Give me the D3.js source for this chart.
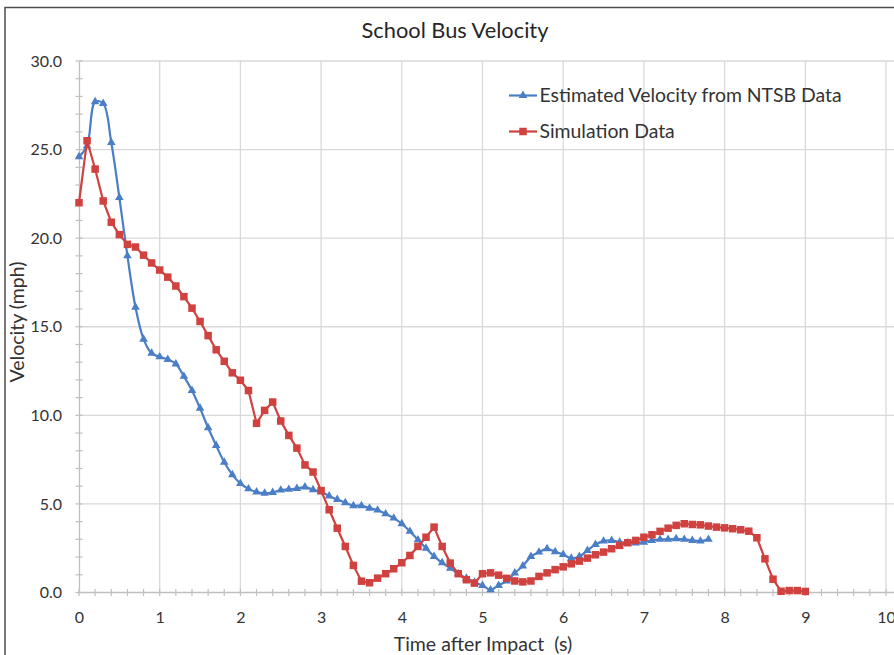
<!DOCTYPE html>
<html>
<head>
<meta charset="utf-8">
<script src="https://cdn.jsdelivr.net/npm/d3@7"></script>
<style>
  html, body { margin: 0; padding: 0; background: #fff; }
  svg { display: block; }
  text { font-family: Lato, "Open Sans", sans-serif; }
</style>
</head>
<body>
<svg id="chart" width="894" height="655"></svg>
<script>
// ---------- data ----------
const chartTitle = "School Bus Velocity";
const xAxisTitle = "Time after Impact  (s)";
const yAxisTitle = "Velocity (mph)";
const seriesNames = ["Estimated Velocity from NTSB Data", "Simulation Data"];

const xTickValues = [0, 1, 2, 3, 4, 5, 6, 7, 8, 9, 10];
const yTickValues = [0, 5, 10, 15, 20, 25, 30];

const ntsbTime = [0.0, 0.1, 0.2, 0.3, 0.4, 0.5, 0.6, 0.7, 0.8, 0.9,
  1.0, 1.1, 1.2, 1.3, 1.4, 1.5, 1.6, 1.7, 1.8, 1.9,
  2.0, 2.1, 2.2, 2.3, 2.4, 2.5, 2.6, 2.7, 2.8, 2.9,
  3.0, 3.1, 3.2, 3.3, 3.4, 3.5, 3.6, 3.7, 3.8, 3.9,
  4.0, 4.1, 4.2, 4.3, 4.4, 4.5, 4.6, 4.7, 4.8, 4.9,
  5.0, 5.1, 5.2, 5.3, 5.4, 5.5, 5.6, 5.7, 5.8, 5.9,
  6.0, 6.1, 6.2, 6.3, 6.4, 6.5, 6.6, 6.7, 6.8, 6.9,
  7.0, 7.1, 7.2, 7.3, 7.4, 7.5, 7.6, 7.7, 7.8];
const ntsbVelocity = [24.6, 25.2, 27.7, 27.6, 25.4, 22.3, 19.0, 16.1, 14.3, 13.5,
  13.3, 13.15, 12.9, 12.2, 11.4, 10.4, 9.3, 8.3, 7.35, 6.65,
  6.15, 5.85, 5.67, 5.6, 5.65, 5.78, 5.82, 5.87, 5.95, 5.8,
  5.68, 5.45, 5.25, 5.07, 4.9, 4.9, 4.76, 4.65, 4.44, 4.2,
  3.88, 3.45, 2.97, 2.5, 2.03, 1.68, 1.37, 1.06, 0.8, 0.58,
  0.4, 0.15, 0.4, 0.65, 1.1, 1.5, 2.03, 2.28, 2.47, 2.3,
  2.14, 1.93, 2.03, 2.37, 2.71, 2.9, 2.94, 2.84, 2.79, 2.79,
  2.84, 2.94, 3.0, 3.0, 3.03, 3.0, 2.94, 2.9, 3.0];

const simTime = [0.0, 0.1, 0.2, 0.3, 0.4, 0.5, 0.6, 0.7, 0.8, 0.9,
  1.0, 1.1, 1.2, 1.3, 1.4, 1.5, 1.6, 1.7, 1.8, 1.9,
  2.0, 2.1, 2.2, 2.3, 2.4, 2.5, 2.6, 2.7, 2.8, 2.9,
  3.0, 3.1, 3.2, 3.3, 3.4, 3.5, 3.6, 3.7, 3.8, 3.9,
  4.0, 4.1, 4.2, 4.3, 4.4, 4.5, 4.6, 4.7, 4.8, 4.9,
  5.0, 5.1, 5.2, 5.3, 5.4, 5.5, 5.6, 5.7, 5.8, 5.9,
  6.0, 6.1, 6.2, 6.3, 6.4, 6.5, 6.6, 6.7, 6.8, 6.9,
  7.0, 7.1, 7.2, 7.3, 7.4, 7.5, 7.6, 7.7, 7.8, 7.9,
  8.0, 8.1, 8.2, 8.3, 8.4, 8.5, 8.6, 8.7, 8.8, 8.9, 9.0];
const simVelocity = [22.0, 25.5, 23.9, 22.1, 20.9, 20.2, 19.65, 19.5, 19.04, 18.6,
  18.2, 17.8, 17.3, 16.7, 16.05, 15.3, 14.5, 13.7, 13.05, 12.4,
  11.98, 11.4, 9.55, 10.28, 10.75, 9.68, 8.87, 8.15, 7.2, 6.8,
  5.75, 4.67, 3.63, 2.6, 1.53, 0.64, 0.55, 0.81, 1.06, 1.34,
  1.68, 2.09, 2.6, 3.12, 3.69, 2.6, 1.66, 1.06, 0.72, 0.53,
  1.06, 1.11, 0.98, 0.8, 0.65, 0.6, 0.65, 0.91, 1.11, 1.29,
  1.45, 1.62, 1.77, 1.94, 2.13, 2.28, 2.47, 2.66, 2.81, 2.94,
  3.12, 3.26, 3.45, 3.63, 3.79, 3.88, 3.84, 3.82, 3.75, 3.69,
  3.65, 3.6, 3.54, 3.46, 3.09, 1.9, 0.75, 0.07, 0.11, 0.11, 0.06];

// ---------- styles ----------
const blue = "#4a7ec6";
const red = "#cf423f";
const gridColor = "#d9d9d9";
const axisColor = "#bfbfbf";
const textColor = "#333333";

const svg = d3.select("#chart");

// outer frame
svg.append("rect")
  .attr("x", 5).attr("y", 7.5)
  .attr("width", 1000).attr("height", 1000)
  .attr("fill", "none").attr("stroke", "#4d4d4d").attr("stroke-width", 1.5);

const x = d3.scaleLinear().domain([0, 10]).range([79, 886]);
const y = d3.scaleLinear().domain([0, 30]).range([592.5, 61]);

// gridlines
const grid = svg.append("g");
grid.selectAll("line.v").data(xTickValues.filter(d => d > 0)).join("line")
  .attr("x1", d => x(d)).attr("x2", d => x(d))
  .attr("y1", y(30)).attr("y2", y(0))
  .attr("stroke", gridColor).attr("stroke-width", 1.3);
grid.selectAll("line.h").data(yTickValues.filter(d => d > 0)).join("line")
  .attr("x1", x(0)).attr("x2", x(10) + 10)
  .attr("y1", d => y(d)).attr("y2", d => y(d))
  .attr("stroke", gridColor).attr("stroke-width", 1.3);

// minor ticks (crossing the axis lines)
const xMinor = d3.range(0, 51).map(i => i / 5);
const yMinor = d3.range(0, 31);
svg.append("g").selectAll("line").data(xMinor).join("line")
  .attr("x1", d => x(d)).attr("x2", d => x(d))
  .attr("y1", y(0) - 3.5).attr("y2", y(0) + 3.5)
  .attr("stroke", axisColor).attr("stroke-width", 1.2);
svg.append("g").selectAll("line").data(yMinor).join("line")
  .attr("x1", x(0) - 3.5).attr("x2", x(0) + 3.5)
  .attr("y1", d => y(d)).attr("y2", d => y(d))
  .attr("stroke", axisColor).attr("stroke-width", 1.2);

// axes (lines + labels) via d3 axes
const xAxis = d3.axisBottom(x).tickValues(xTickValues).tickSize(0).tickPadding(19).tickFormat(d3.format("d"));
const yAxis = d3.axisLeft(y).tickValues(yTickValues).tickSize(0).tickPadding(17).tickFormat(d3.format(".1f"));

const gx = svg.append("g").attr("transform", `translate(0,${y(0)})`).call(xAxis);
const gy = svg.append("g").attr("transform", `translate(${x(0)},0)`).call(yAxis);
[gx, gy].forEach(g => {
  g.select(".domain").attr("stroke", axisColor).attr("stroke-width", 1.3);
  g.selectAll("text").attr("font-size", 16).attr("fill", textColor)
    .attr("font-family", "Lato, 'Open Sans', sans-serif");
});
gx.select(".domain").attr("d", `M${x(0)},0H${x(10) + 10}`);

// series
const ntsb = ntsbTime.map((t, i) => ({ t, v: ntsbVelocity[i] }));
const sim = simTime.map((t, i) => ({ t, v: simVelocity[i] }));

const smoothLine = d3.line().x(d => x(d.t)).y(d => y(d.v)).curve(d3.curveCatmullRom.alpha(0.5));
const straightLine = d3.line().x(d => x(d.t)).y(d => y(d.v));

svg.append("path").datum(ntsb).attr("d", smoothLine)
  .attr("fill", "none").attr("stroke", blue).attr("stroke-width", 2.2);
const triSym = d3.symbol().type(d3.symbolTriangle).size(32);
svg.append("g").selectAll("path").data(ntsb).join("path")
  .attr("d", triSym)
  .attr("transform", d => `translate(${x(d.t)},${y(d.v)})`)
  .attr("fill", blue);

svg.append("path").datum(sim).attr("d", straightLine)
  .attr("fill", "none").attr("stroke", red).attr("stroke-width", 2.2);
const sq = 7.5;
svg.append("g").selectAll("rect").data(sim).join("rect")
  .attr("x", d => x(d.t) - sq / 2).attr("y", d => y(d.v) - sq / 2)
  .attr("width", sq).attr("height", sq)
  .attr("fill", red);

// title
svg.append("text")
  .attr("x", 455).attr("y", 37.5)
  .attr("text-anchor", "middle")
  .attr("font-size", 21.8).attr("fill", "#262626")
  .text(chartTitle);

// axis titles
svg.append("text")
  .attr("x", 483).attr("y", 651)
  .attr("text-anchor", "middle")
  .style("white-space", "pre")
  .attr("font-size", 19.5).attr("fill", textColor)
  .text(xAxisTitle);
svg.append("text")
  .attr("transform", `translate(24,322) rotate(-90)`)
  .attr("text-anchor", "middle")
  .attr("font-size", 19.5).attr("fill", textColor)
  .text(yAxisTitle);

// legend
const legend = svg.append("g");
const legendItems = [
  { name: seriesNames[0], color: blue, y: 95.5, marker: "tri" },
  { name: seriesNames[1], color: red, y: 131.5, marker: "sq" }
];
legendItems.forEach(it => {
  legend.append("line").attr("x1", 509).attr("x2", 537)
    .attr("y1", it.y).attr("y2", it.y)
    .attr("stroke", it.color).attr("stroke-width", 2.2);
  if (it.marker === "tri") {
    legend.append("path").attr("d", triSym).attr("transform", `translate(523,${it.y})`).attr("fill", it.color);
  } else {
    legend.append("rect").attr("x", 523 - sq / 2).attr("y", it.y - sq / 2)
      .attr("width", sq).attr("height", sq).attr("fill", it.color);
  }
  legend.append("text").attr("x", 539.5).attr("y", it.y + 6.5)
    .attr("font-size", 19.4).attr("fill", textColor)
    .text(it.name);
});
</script>
</body>
</html>
